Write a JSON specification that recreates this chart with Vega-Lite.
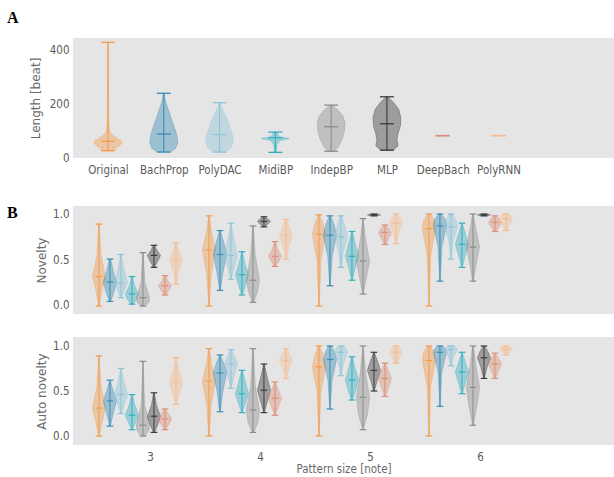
{
  "$schema": "https://vega.github.io/schema/vega-lite/v6.json",
  "padding": {"left": 7, "top": 10, "right": 0, "bottom": 0},
  "background": "white",
  "config": {
    "view": {"fill": "#e5e5e5", "stroke": null},
    "font": "Liberation Sans Narrow, DejaVu Sans Condensed, Liberation Sans, sans-serif",
    "axis": {"domain": false, "ticks": false, "tickSize": 0, "grid": false, "labelColor": "#5a5a5a", "titleColor": "#6a6a6a", "labelFontSize": 11.5, "titleFontSize": 12, "titleFont": "DejaVu Sans", "titleFontWeight": "normal", "labelPadding": 4, "titlePadding": 5},
    "title": {"font": "Liberation Serif", "fontWeight": "bold", "fontSize": 16, "anchor": "start", "color": "#000000", "frame": "group", "baseline": "bottom"}
  },
  "datasets": {
    "lenA": [
      {"m": "Original", "lo": 27, "med": 62, "hi": 429, "y": [27, 40, 55, 65, 80, 95, 120, 200, 300, 429], "d": [0.3, 0.7, 1, 0.95, 0.45, 0.15, 0.07, 0.04, 0.03, 0.02]},
      {"m": "BachProp", "lo": 22, "med": 89, "hi": 240, "y": [22, 35, 55, 75, 100, 130, 160, 190, 215, 240], "d": [0.45, 0.85, 1, 0.97, 0.85, 0.65, 0.45, 0.25, 0.1, 0.03]},
      {"m": "PolyDAC", "lo": 22, "med": 87, "hi": 205, "y": [22, 40, 65, 90, 120, 150, 175, 205], "d": [0.45, 0.85, 1, 0.9, 0.7, 0.5, 0.25, 0.03]},
      {"m": "MidiBP", "lo": 21, "med": 75, "hi": 96, "y": [21, 50, 65, 72, 79, 96], "d": [0.08, 0.12, 0.35, 1, 0.3, 0.08]},
      {"m": "IndepBP", "lo": 25, "med": 116, "hi": 196, "y": [25, 40, 70, 100, 130, 155, 175, 196], "d": [0.2, 0.5, 0.8, 0.95, 1, 0.85, 0.55, 0.1]},
      {"m": "MLP", "lo": 29, "med": 127, "hi": 227, "y": [29, 45, 70, 90, 120, 150, 180, 205, 227], "d": [0.45, 0.8, 0.72, 0.8, 0.97, 1, 0.85, 0.5, 0.05]},
      {"m": "DeepBach", "lo": 83, "med": 83, "hi": 83, "y": [], "d": []},
      {"m": "PolyRNN", "lo": 83, "med": 83, "hi": 83, "y": [], "d": []}
    ],
    "nov": [
      {"p": "N", "s": 3, "m": "Original", "lo": 0, "med": 0.32, "hi": 0.89, "y": [0, 0.15, 0.32, 0.55, 0.89], "d": [0.05, 0.4, 1, 0.3, 0.03]},
      {"p": "N", "s": 3, "m": "BachProp", "lo": 0.05, "med": 0.26, "hi": 0.51, "y": [0.05, 0.15, 0.26, 0.38, 0.51], "d": [0.1, 0.6, 1, 0.5, 0.1]},
      {"p": "N", "s": 3, "m": "PolyDAC", "lo": 0.09, "med": 0.25, "hi": 0.56, "y": [0.09, 0.17, 0.25, 0.4, 0.56], "d": [0.1, 0.5, 1, 0.45, 0.05]},
      {"p": "N", "s": 3, "m": "MidiBP", "lo": 0.02, "med": 0.13, "hi": 0.32, "y": [0.02, 0.07, 0.13, 0.22, 0.32], "d": [0.15, 0.7, 1, 0.4, 0.05]},
      {"p": "N", "s": 3, "m": "IndepBP", "lo": 0, "med": 0.09, "hi": 0.58, "y": [0, 0.04, 0.09, 0.25, 0.58], "d": [0.3, 0.9, 1, 0.3, 0.03]},
      {"p": "N", "s": 3, "m": "MLP", "lo": 0.42, "med": 0.55, "hi": 0.66, "y": [0.42, 0.49, 0.55, 0.6, 0.66], "d": [0.1, 0.6, 1, 0.5, 0.1]},
      {"p": "N", "s": 3, "m": "DeepBach", "lo": 0.12, "med": 0.22, "hi": 0.33, "y": [0.12, 0.17, 0.22, 0.27, 0.33], "d": [0.1, 0.6, 1, 0.5, 0.1]},
      {"p": "N", "s": 3, "m": "PolyRNN", "lo": 0.24, "med": 0.5, "hi": 0.69, "y": [0.24, 0.38, 0.5, 0.6, 0.69], "d": [0.05, 0.45, 1, 0.45, 0.05]},
      {"p": "N", "s": 4, "m": "Original", "lo": 0, "med": 0.61, "hi": 0.98, "y": [0, 0.35, 0.61, 0.8, 0.98], "d": [0.03, 0.35, 1, 0.4, 0.05]},
      {"p": "N", "s": 4, "m": "BachProp", "lo": 0.17, "med": 0.56, "hi": 0.82, "y": [0.17, 0.38, 0.56, 0.7, 0.82], "d": [0.05, 0.5, 1, 0.55, 0.05]},
      {"p": "N", "s": 4, "m": "PolyDAC", "lo": 0.29, "med": 0.55, "hi": 0.9, "y": [0.29, 0.42, 0.55, 0.72, 0.9], "d": [0.05, 0.5, 1, 0.45, 0.05]},
      {"p": "N", "s": 4, "m": "MidiBP", "lo": 0.12, "med": 0.34, "hi": 0.59, "y": [0.12, 0.22, 0.34, 0.46, 0.59], "d": [0.05, 0.5, 1, 0.45, 0.05]},
      {"p": "N", "s": 4, "m": "IndepBP", "lo": 0.04, "med": 0.28, "hi": 0.87, "y": [0.04, 0.16, 0.28, 0.55, 0.87], "d": [0.1, 0.7, 1, 0.35, 0.03]},
      {"p": "N", "s": 4, "m": "MLP", "lo": 0.86, "med": 0.92, "hi": 0.97, "y": [0.86, 0.89, 0.92, 0.945, 0.97], "d": [0.1, 0.6, 1, 0.6, 0.1]},
      {"p": "N", "s": 4, "m": "DeepBach", "lo": 0.43, "med": 0.54, "hi": 0.7, "y": [0.43, 0.49, 0.54, 0.61, 0.7], "d": [0.1, 0.6, 1, 0.45, 0.05]},
      {"p": "N", "s": 4, "m": "PolyRNN", "lo": 0.51, "med": 0.77, "hi": 0.94, "y": [0.51, 0.65, 0.77, 0.86, 0.94], "d": [0.05, 0.45, 1, 0.5, 0.05]},
      {"p": "N", "s": 5, "m": "Original", "lo": 0, "med": 0.78, "hi": 0.99, "y": [0, 0.5, 0.78, 0.9, 0.99], "d": [0.03, 0.3, 1, 0.6, 0.1]},
      {"p": "N", "s": 5, "m": "BachProp", "lo": 0.22, "med": 0.77, "hi": 0.98, "y": [0.22, 0.55, 0.77, 0.88, 0.98], "d": [0.03, 0.35, 1, 0.65, 0.1]},
      {"p": "N", "s": 5, "m": "PolyDAC", "lo": 0.42, "med": 0.75, "hi": 0.98, "y": [0.42, 0.6, 0.75, 0.87, 0.98], "d": [0.05, 0.4, 1, 0.6, 0.1]},
      {"p": "N", "s": 5, "m": "MidiBP", "lo": 0.28, "med": 0.54, "hi": 0.81, "y": [0.28, 0.42, 0.54, 0.68, 0.81], "d": [0.05, 0.5, 1, 0.5, 0.05]},
      {"p": "N", "s": 5, "m": "IndepBP", "lo": 0.13, "med": 0.49, "hi": 0.95, "y": [0.13, 0.32, 0.49, 0.72, 0.95], "d": [0.05, 0.55, 1, 0.4, 0.03]},
      {"p": "N", "s": 5, "m": "MLP", "lo": 0.98, "med": 0.99, "hi": 1.0, "y": [0.98, 0.99, 1.0], "d": [0.6, 1, 0.6]},
      {"p": "N", "s": 5, "m": "DeepBach", "lo": 0.67, "med": 0.8, "hi": 0.88, "y": [0.67, 0.74, 0.8, 0.84, 0.88], "d": [0.1, 0.6, 1, 0.6, 0.1]},
      {"p": "N", "s": 5, "m": "PolyRNN", "lo": 0.68, "med": 0.9, "hi": 1.0, "y": [0.68, 0.8, 0.9, 0.95, 1.0], "d": [0.05, 0.45, 1, 0.7, 0.15]},
      {"p": "N", "s": 6, "m": "Original", "lo": 0, "med": 0.84, "hi": 1.0, "y": [0, 0.55, 0.84, 0.93, 1.0], "d": [0.03, 0.25, 1, 0.8, 0.2]},
      {"p": "N", "s": 6, "m": "BachProp", "lo": 0.27, "med": 0.87, "hi": 1.0, "y": [0.27, 0.65, 0.87, 0.94, 1.0], "d": [0.03, 0.3, 1, 0.8, 0.2]},
      {"p": "N", "s": 6, "m": "PolyDAC", "lo": 0.51, "med": 0.86, "hi": 1.0, "y": [0.51, 0.72, 0.86, 0.94, 1.0], "d": [0.05, 0.35, 1, 0.75, 0.2]},
      {"p": "N", "s": 6, "m": "MidiBP", "lo": 0.42, "med": 0.67, "hi": 0.9, "y": [0.42, 0.55, 0.67, 0.79, 0.9], "d": [0.05, 0.5, 1, 0.5, 0.05]},
      {"p": "N", "s": 6, "m": "IndepBP", "lo": 0.27, "med": 0.64, "hi": 1.0, "y": [0.27, 0.48, 0.64, 0.82, 1.0], "d": [0.05, 0.55, 1, 0.5, 0.05]},
      {"p": "N", "s": 6, "m": "MLP", "lo": 0.98, "med": 0.99, "hi": 1.0, "y": [0.98, 0.99, 1.0], "d": [0.6, 1, 0.6]},
      {"p": "N", "s": 6, "m": "DeepBach", "lo": 0.81, "med": 0.91, "hi": 0.98, "y": [0.81, 0.86, 0.91, 0.95, 0.98], "d": [0.1, 0.6, 1, 0.6, 0.1]},
      {"p": "N", "s": 6, "m": "PolyRNN", "lo": 0.82, "med": 0.95, "hi": 1.0, "y": [0.82, 0.89, 0.95, 0.98, 1.0], "d": [0.1, 0.55, 1, 0.8, 0.3]},
      {"p": "A", "s": 3, "m": "Original", "lo": 0, "med": 0.31, "hi": 0.89, "y": [0, 0.15, 0.31, 0.55, 0.89], "d": [0.05, 0.45, 1, 0.3, 0.03]},
      {"p": "A", "s": 3, "m": "BachProp", "lo": 0.11, "med": 0.39, "hi": 0.62, "y": [0.11, 0.25, 0.39, 0.5, 0.62], "d": [0.05, 0.5, 1, 0.5, 0.05]},
      {"p": "A", "s": 3, "m": "PolyDAC", "lo": 0.25, "med": 0.46, "hi": 0.75, "y": [0.25, 0.35, 0.46, 0.6, 0.75], "d": [0.05, 0.5, 1, 0.45, 0.05]},
      {"p": "A", "s": 3, "m": "MidiBP", "lo": 0.07, "med": 0.23, "hi": 0.46, "y": [0.07, 0.15, 0.23, 0.34, 0.46], "d": [0.05, 0.55, 1, 0.45, 0.05]},
      {"p": "A", "s": 3, "m": "IndepBP", "lo": 0, "med": 0.12, "hi": 0.83, "y": [0, 0.06, 0.12, 0.35, 0.83], "d": [0.3, 0.9, 1, 0.25, 0.02]},
      {"p": "A", "s": 3, "m": "MLP", "lo": 0.04, "med": 0.22, "hi": 0.48, "y": [0.04, 0.13, 0.22, 0.34, 0.48], "d": [0.1, 0.6, 1, 0.4, 0.05]},
      {"p": "A", "s": 3, "m": "DeepBach", "lo": 0.07, "med": 0.19, "hi": 0.3, "y": [0.07, 0.13, 0.19, 0.25, 0.3], "d": [0.1, 0.6, 1, 0.5, 0.1]},
      {"p": "A", "s": 3, "m": "PolyRNN", "lo": 0.35, "med": 0.59, "hi": 0.87, "y": [0.35, 0.47, 0.59, 0.73, 0.87], "d": [0.05, 0.5, 1, 0.45, 0.05]},
      {"p": "A", "s": 4, "m": "Original", "lo": 0, "med": 0.61, "hi": 0.97, "y": [0, 0.35, 0.61, 0.8, 0.97], "d": [0.03, 0.35, 1, 0.4, 0.05]},
      {"p": "A", "s": 4, "m": "BachProp", "lo": 0.27, "med": 0.7, "hi": 0.9, "y": [0.27, 0.5, 0.7, 0.8, 0.9], "d": [0.05, 0.45, 1, 0.6, 0.05]},
      {"p": "A", "s": 4, "m": "PolyDAC", "lo": 0.53, "med": 0.8, "hi": 0.96, "y": [0.53, 0.67, 0.8, 0.88, 0.96], "d": [0.05, 0.5, 1, 0.6, 0.05]},
      {"p": "A", "s": 4, "m": "MidiBP", "lo": 0.26, "med": 0.47, "hi": 0.73, "y": [0.26, 0.37, 0.47, 0.6, 0.73], "d": [0.05, 0.55, 1, 0.5, 0.05]},
      {"p": "A", "s": 4, "m": "IndepBP", "lo": 0.04, "med": 0.29, "hi": 0.97, "y": [0.04, 0.15, 0.29, 0.55, 0.97], "d": [0.1, 0.75, 1, 0.35, 0.03]},
      {"p": "A", "s": 4, "m": "MLP", "lo": 0.26, "med": 0.51, "hi": 0.8, "y": [0.26, 0.38, 0.51, 0.65, 0.8], "d": [0.05, 0.5, 1, 0.5, 0.05]},
      {"p": "A", "s": 4, "m": "DeepBach", "lo": 0.23, "med": 0.42, "hi": 0.6, "y": [0.23, 0.33, 0.42, 0.51, 0.6], "d": [0.05, 0.55, 1, 0.5, 0.05]},
      {"p": "A", "s": 4, "m": "PolyRNN", "lo": 0.64, "med": 0.84, "hi": 0.97, "y": [0.64, 0.75, 0.84, 0.91, 0.97], "d": [0.05, 0.5, 1, 0.55, 0.05]},
      {"p": "A", "s": 5, "m": "Original", "lo": 0, "med": 0.77, "hi": 1.0, "y": [0, 0.5, 0.77, 0.9, 1.0], "d": [0.03, 0.3, 1, 0.6, 0.1]},
      {"p": "A", "s": 5, "m": "BachProp", "lo": 0.3, "med": 0.85, "hi": 1.0, "y": [0.3, 0.62, 0.85, 0.93, 1.0], "d": [0.03, 0.3, 1, 0.7, 0.2]},
      {"p": "A", "s": 5, "m": "PolyDAC", "lo": 0.67, "med": 0.93, "hi": 1.0, "y": [0.67, 0.82, 0.93, 0.97, 1.0], "d": [0.05, 0.4, 1, 0.8, 0.3]},
      {"p": "A", "s": 5, "m": "MidiBP", "lo": 0.4, "med": 0.62, "hi": 0.88, "y": [0.4, 0.5, 0.62, 0.75, 0.88], "d": [0.05, 0.55, 1, 0.5, 0.05]},
      {"p": "A", "s": 5, "m": "IndepBP", "lo": 0.07, "med": 0.43, "hi": 1.0, "y": [0.07, 0.25, 0.43, 0.7, 1.0], "d": [0.05, 0.7, 1, 0.4, 0.03]},
      {"p": "A", "s": 5, "m": "MLP", "lo": 0.5, "med": 0.73, "hi": 0.93, "y": [0.5, 0.62, 0.73, 0.83, 0.93], "d": [0.05, 0.5, 1, 0.55, 0.05]},
      {"p": "A", "s": 5, "m": "DeepBach", "lo": 0.44, "med": 0.64, "hi": 0.81, "y": [0.44, 0.54, 0.64, 0.72, 0.81], "d": [0.05, 0.55, 1, 0.55, 0.05]},
      {"p": "A", "s": 5, "m": "PolyRNN", "lo": 0.81, "med": 0.93, "hi": 1.0, "y": [0.81, 0.87, 0.93, 0.97, 1.0], "d": [0.1, 0.55, 1, 0.7, 0.2]},
      {"p": "A", "s": 6, "m": "Original", "lo": 0, "med": 0.84, "hi": 1.0, "y": [0, 0.55, 0.84, 0.93, 1.0], "d": [0.03, 0.25, 1, 0.8, 0.2]},
      {"p": "A", "s": 6, "m": "BachProp", "lo": 0.33, "med": 0.93, "hi": 1.0, "y": [0.33, 0.7, 0.93, 0.97, 1.0], "d": [0.03, 0.25, 1, 0.8, 0.3]},
      {"p": "A", "s": 6, "m": "PolyDAC", "lo": 0.78, "med": 0.96, "hi": 1.0, "y": [0.78, 0.88, 0.96, 0.98, 1.0], "d": [0.05, 0.35, 1, 0.8, 0.4]},
      {"p": "A", "s": 6, "m": "MidiBP", "lo": 0.47, "med": 0.71, "hi": 0.93, "y": [0.47, 0.6, 0.71, 0.82, 0.93], "d": [0.05, 0.55, 1, 0.5, 0.05]},
      {"p": "A", "s": 6, "m": "IndepBP", "lo": 0.12, "med": 0.54, "hi": 1.0, "y": [0.12, 0.33, 0.54, 0.78, 1.0], "d": [0.05, 0.6, 1, 0.45, 0.05]},
      {"p": "A", "s": 6, "m": "MLP", "lo": 0.64, "med": 0.87, "hi": 1.0, "y": [0.64, 0.77, 0.87, 0.94, 1.0], "d": [0.05, 0.5, 1, 0.6, 0.1]},
      {"p": "A", "s": 6, "m": "DeepBach", "lo": 0.64, "med": 0.8, "hi": 0.92, "y": [0.64, 0.72, 0.8, 0.86, 0.92], "d": [0.05, 0.55, 1, 0.55, 0.05]},
      {"p": "A", "s": 6, "m": "PolyRNN", "lo": 0.9, "med": 0.96, "hi": 1.0, "y": [0.9, 0.93, 0.96, 0.98, 1.0], "d": [0.1, 0.6, 1, 0.8, 0.3]}
    ]
  },
  "spacing": 29,
  "vconcat": [
    {
      "width": 541,
      "height": 120,
      "title": {"text": "A", "dx": -66, "offset": 12},
      "data": {"name": "lenA"},
      "transform": [
        {"calculate": "indexof(['Original','BachProp','PolyDAC','MidiBP','IndepBP','MLP','DeepBach','PolyRNN'], datum.m) + 1", "as": "xc"}
      ],
      "layer": [
        {
          "transform": [
            {"flatten": ["y", "d"]},
            {"calculate": "datum.xc - 0.25 * datum.d", "as": "xa"},
            {"calculate": "datum.xc + 0.25 * datum.d", "as": "xb"}
          ],
          "mark": {"type": "area", "orient": "horizontal", "fillOpacity": 0.42, "strokeOpacity": 0.45, "strokeWidth": 0.8},
          "encoding": {
            "y": {"field": "y", "type": "quantitative", "title": "Length [beat]", "scale": {"domain": [0, 445], "nice": false, "zero": false}, "axis": {"values": [0, 200, 400], "titlePadding": 7}},
            "x": {"field": "xa", "type": "quantitative", "title": null, "scale": {"domain": [0.373, 10.07], "nice": false, "zero": false}, "axis": {"values": [1, 2, 3, 4, 5, 6, 7, 8], "labelExpr": "['Original','BachProp','PolyDAC','MidiBP','IndepBP','MLP','DeepBach','PolyRNN'][datum.value - 1]", "labelPadding": 6}},
            "x2": {"field": "xb"},
            "detail": {"field": "m"},
            "color": {"field": "m", "type": "nominal", "legend": null, "scale": {"domain": ["Original", "BachProp", "PolyDAC", "MidiBP", "IndepBP", "MLP", "DeepBach", "PolyRNN"], "range": ["#F29B4C", "#3A8DB5", "#8EC3D8", "#35AEC0", "#8C8C8C", "#3A3A3A", "#DC8E78", "#F6BC92"]}},
            "stroke": {"field": "m", "type": "nominal", "legend": null, "scale": {"domain": ["Original", "BachProp", "PolyDAC", "MidiBP", "IndepBP", "MLP", "DeepBach", "PolyRNN"], "range": ["#F29B4C", "#3A8DB5", "#8EC3D8", "#35AEC0", "#8C8C8C", "#3A3A3A", "#DC8E78", "#F6BC92"]}}
          }
        },
        {
          "mark": {"type": "rule", "strokeWidth": 1.1},
          "encoding": {
            "x": {"field": "xc", "type": "quantitative", "title": null},
            "y": {"field": "lo", "type": "quantitative", "title": "Length [beat]"},
            "y2": {"field": "hi"},
            "color": {"field": "m", "type": "nominal", "legend": null}
          }
        },
        {
          "transform": [
            {"calculate": "datum.xc - 0.125", "as": "ca"},
            {"calculate": "datum.xc + 0.125", "as": "cb"},
            {"fold": ["lo", "med", "hi"], "as": ["k", "v"]}
          ],
          "mark": {"type": "rule", "strokeWidth": 1.3},
          "encoding": {
            "x": {"field": "ca", "type": "quantitative", "title": null},
            "x2": {"field": "cb"},
            "y": {"field": "v", "type": "quantitative", "title": "Length [beat]"},
            "color": {"field": "m", "type": "nominal", "legend": null}
          }
        }
      ]
    },
    {
      "spacing": 23,
      "vconcat": [
        {
          "width": 541,
          "height": 108,
          "title": {"text": "B", "dx": -66, "dy": 25, "offset": 10},
          "data": {"name": "nov"},
          "transform": [
            {"filter": "datum.p == 'N'"},
            {"calculate": "datum.s - 0.464 + 0.1 * indexof(['Original','BachProp','PolyDAC','MidiBP','IndepBP','MLP','DeepBach','PolyRNN'], datum.m)", "as": "xc"}
          ],
          "layer": [
            {
              "transform": [
                {"flatten": ["y", "d"]},
                {"calculate": "datum.xc - 0.06 * datum.d", "as": "xa"},
                {"calculate": "datum.xc + 0.06 * datum.d", "as": "xb"}
              ],
              "mark": {"type": "area", "orient": "horizontal", "fillOpacity": 0.42, "strokeOpacity": 0.45, "strokeWidth": 0.8},
              "encoding": {
                "y": {"field": "y", "type": "quantitative", "title": "Novelty", "scale": {"domain": [-0.087, 1.087], "nice": false, "zero": false}, "axis": {"values": [0, 0.5, 1], "format": ".1f", "titlePadding": 4}},
                "x": {"field": "xa", "type": "quantitative", "title": null, "scale": {"domain": [2.3, 7.218], "nice": false, "zero": false}, "axis": null},
                "x2": {"field": "xb"},
                "detail": [{"field": "s"}, {"field": "m"}],
                "color": {"field": "m", "type": "nominal", "legend": null, "scale": {"domain": ["Original", "BachProp", "PolyDAC", "MidiBP", "IndepBP", "MLP", "DeepBach", "PolyRNN"], "range": ["#F29B4C", "#3A8DB5", "#8EC3D8", "#35AEC0", "#8C8C8C", "#3A3A3A", "#DC8E78", "#F6BC92"]}},
                "stroke": {"field": "m", "type": "nominal", "legend": null, "scale": {"domain": ["Original", "BachProp", "PolyDAC", "MidiBP", "IndepBP", "MLP", "DeepBach", "PolyRNN"], "range": ["#F29B4C", "#3A8DB5", "#8EC3D8", "#35AEC0", "#8C8C8C", "#3A3A3A", "#DC8E78", "#F6BC92"]}}
              }
            },
            {
              "mark": {"type": "rule", "strokeWidth": 1},
              "encoding": {
                "x": {"field": "xc", "type": "quantitative", "title": null, "axis": null},
                "y": {"field": "lo", "type": "quantitative", "title": "Novelty"},
                "y2": {"field": "hi"},
                "color": {"field": "m", "type": "nominal", "legend": null}
              }
            },
            {
              "transform": [
                {"calculate": "datum.xc - 0.03", "as": "ca"},
                {"calculate": "datum.xc + 0.03", "as": "cb"},
                {"fold": ["lo", "med", "hi"], "as": ["k", "v"]}
              ],
              "mark": {"type": "rule", "strokeWidth": 1.2},
              "encoding": {
                "x": {"field": "ca", "type": "quantitative", "title": null, "axis": null},
                "x2": {"field": "cb"},
                "y": {"field": "v", "type": "quantitative", "title": "Novelty"},
                "color": {"field": "m", "type": "nominal", "legend": null}
              }
            }
          ]
        },
        {
          "width": 541,
          "height": 108,
          "data": {"name": "nov"},
          "transform": [
            {"filter": "datum.p == 'A'"},
            {"calculate": "datum.s - 0.464 + 0.1 * indexof(['Original','BachProp','PolyDAC','MidiBP','IndepBP','MLP','DeepBach','PolyRNN'], datum.m)", "as": "xc"}
          ],
          "layer": [
            {
              "transform": [
                {"flatten": ["y", "d"]},
                {"calculate": "datum.xc - 0.06 * datum.d", "as": "xa"},
                {"calculate": "datum.xc + 0.06 * datum.d", "as": "xb"}
              ],
              "mark": {"type": "area", "orient": "horizontal", "fillOpacity": 0.42, "strokeOpacity": 0.45, "strokeWidth": 0.8},
              "encoding": {
                "y": {"field": "y", "type": "quantitative", "title": "Auto novelty", "scale": {"domain": [-0.1, 1.1], "nice": false, "zero": false}, "axis": {"values": [0, 0.5, 1], "format": ".1f", "titlePadding": 4}},
                "x": {"field": "xa", "type": "quantitative", "title": "Pattern size [note]", "scale": {"domain": [2.3, 7.218], "nice": false, "zero": false}, "axis": {"values": [3, 4, 5, 6], "format": "d", "labelPadding": 6, "titlePadding": 1, "titleFont": "Liberation Sans Narrow, DejaVu Sans Condensed, Liberation Sans, sans-serif", "titleFontSize": 11.5}},
                "x2": {"field": "xb"},
                "detail": [{"field": "s"}, {"field": "m"}],
                "color": {"field": "m", "type": "nominal", "legend": null, "scale": {"domain": ["Original", "BachProp", "PolyDAC", "MidiBP", "IndepBP", "MLP", "DeepBach", "PolyRNN"], "range": ["#F29B4C", "#3A8DB5", "#8EC3D8", "#35AEC0", "#8C8C8C", "#3A3A3A", "#DC8E78", "#F6BC92"]}},
                "stroke": {"field": "m", "type": "nominal", "legend": null, "scale": {"domain": ["Original", "BachProp", "PolyDAC", "MidiBP", "IndepBP", "MLP", "DeepBach", "PolyRNN"], "range": ["#F29B4C", "#3A8DB5", "#8EC3D8", "#35AEC0", "#8C8C8C", "#3A3A3A", "#DC8E78", "#F6BC92"]}}
              }
            },
            {
              "mark": {"type": "rule", "strokeWidth": 1},
              "encoding": {
                "x": {"field": "xc", "type": "quantitative", "title": "Pattern size [note]"},
                "y": {"field": "lo", "type": "quantitative", "title": "Auto novelty"},
                "y2": {"field": "hi"},
                "color": {"field": "m", "type": "nominal", "legend": null}
              }
            },
            {
              "transform": [
                {"calculate": "datum.xc - 0.03", "as": "ca"},
                {"calculate": "datum.xc + 0.03", "as": "cb"},
                {"fold": ["lo", "med", "hi"], "as": ["k", "v"]}
              ],
              "mark": {"type": "rule", "strokeWidth": 1.2},
              "encoding": {
                "x": {"field": "ca", "type": "quantitative", "title": "Pattern size [note]"},
                "x2": {"field": "cb"},
                "y": {"field": "v", "type": "quantitative", "title": "Auto novelty"},
                "color": {"field": "m", "type": "nominal", "legend": null}
              }
            }
          ]
        }
      ]
    }
  ]
}
